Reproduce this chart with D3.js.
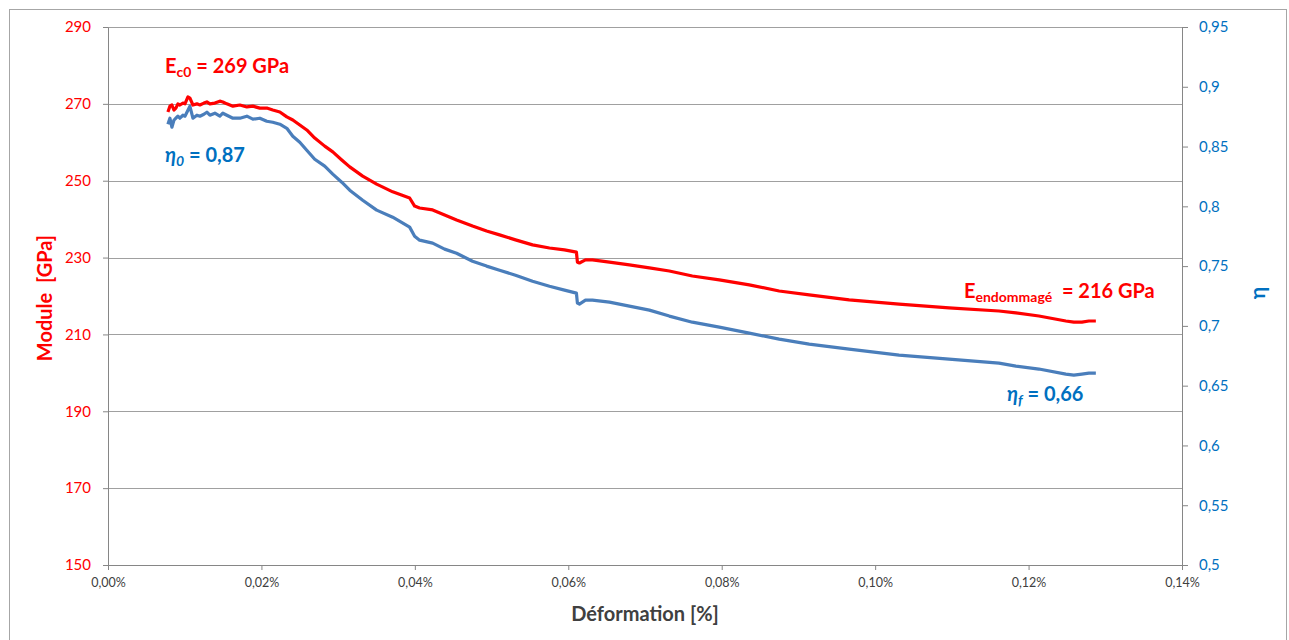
<!DOCTYPE html>
<html><head><meta charset="utf-8">
<script src="https://cdn.jsdelivr.net/npm/d3@7"></script>
<style>
html,body{margin:0;padding:0;background:#fff;}
svg{display:block;font-family:Lato,"Open Sans",sans-serif;}
</style></head>
<body><svg id="c" width="1289" height="640"></svg>
<script>
// Data
const strain = [0.00781,0.00807,0.00833,0.00859,0.00885,0.00911,0.00937,0.00977,0.01003,0.01042,
0.01068,0.01107,0.01159,0.01198,0.0125,0.01289,0.01328,0.01393,0.01458,0.01497,
0.01549,0.01628,0.01719,0.0181,0.01888,0.01979,0.0207,0.02148,0.0224,0.02331,
0.02409,0.025,0.02591,0.02695,0.02825,0.0293,0.03047,0.03151,0.0332,0.03502,
0.03711,0.03932,0.03997,0.04062,0.04232,0.04388,0.04544,0.04752,0.04935,0.05104,
0.05312,0.05534,0.05755,0.0595,0.06106,0.06119,0.06145,0.06224,0.06315,0.06536,
0.06796,0.07057,0.07317,0.07617,0.07968,0.08359,0.08749,0.0914,0.09661,0.10312,
0.10963,0.11614,0.11835,0.12135,0.12486,0.1259,0.12695,0.12786,0.12877];
const moduleGPa = [267.9,269.4,269.7,268.4,268.9,270.0,269.7,270.2,270.0,271.8,
271.5,269.7,270.0,269.7,270.2,270.5,270.0,270.2,270.7,270.5,
270.0,269.4,269.7,269.2,269.4,268.9,268.9,268.4,267.9,266.6,
265.8,264.5,263.2,261.1,259.0,257.5,255.4,253.6,251.2,249.1,
247.1,245.5,243.4,242.9,242.4,241.1,239.8,238.2,236.9,235.9,
234.6,233.3,232.5,232.0,231.4,228.8,228.6,229.4,229.4,228.8,
228.1,227.3,226.5,225.2,224.2,222.9,221.3,220.3,219.0,217.9,
216.9,216.1,215.6,214.8,213.5,213.2,213.2,213.5,213.5];
const eta = [0.8687,0.8737,0.8662,0.8720,0.8737,0.8754,0.8737,0.8762,0.8754,0.8804,
0.8837,0.8737,0.8762,0.8754,0.8770,0.8787,0.8762,0.8779,0.8754,0.8779,
0.8762,0.8737,0.8737,0.8754,0.8729,0.8737,0.8712,0.8703,0.8687,0.8653,
0.8586,0.8536,0.8469,0.8394,0.8336,0.8269,0.8202,0.8135,0.8051,0.7968,
0.7909,0.7826,0.7750,0.7717,0.7692,0.7642,0.7608,0.7541,0.7500,0.7466,
0.7424,0.7374,0.7332,0.7299,0.7274,0.7190,0.7182,0.7215,0.7215,0.7199,
0.7165,0.7132,0.7082,0.7031,0.6990,0.6940,0.6889,0.6848,0.6806,0.6756,
0.6722,0.6689,0.6664,0.6639,0.6597,0.6588,0.6597,0.6605,0.6605];
const xTicks = [0,0.02,0.04,0.06,0.08,0.10,0.12,0.14];
const yLeftTicks = [150,170,190,210,230,250,270,290];
const yRightTicks = [0.5,0.55,0.6,0.65,0.7,0.75,0.8,0.85,0.9,0.95];

const svg = d3.select("#c");
const L=108, R=1182, T=27, B=565;
const x = d3.scaleLinear().domain([0,0.14]).range([L,R]);
const yL = d3.scaleLinear().domain([150,290]).range([B,T]);
const yR = d3.scaleLinear().domain([0.5,0.95]).range([B,T]);

// outer frame
svg.append("rect").attr("x",9.5).attr("y",9.5).attr("width",1277).attr("height",700)
  .attr("fill","none").attr("stroke","#a6a6a6").attr("stroke-width",1);

// gridlines
svg.append("g").selectAll("line").data(yLeftTicks.slice(1)).join("line")
  .attr("x1",L).attr("x2",R).attr("y1",d=>Math.round(yL(d))+0.5).attr("y2",d=>Math.round(yL(d))+0.5)
  .attr("stroke","#a0a0a0").attr("stroke-width",1);

const comma = s => s.replace(".",",");
// axes
const gx = svg.append("g").attr("transform",`translate(0,${B})`)
  .call(d3.axisBottom(x).tickValues(xTicks).tickSize(5).tickSizeOuter(0).tickFormat(d=>comma(d3.format(".2f")(d))+"%"));
gx.selectAll("text").attr("fill","#404040").style("font-size","12.5px").attr("dy","1.15em");
const gl = svg.append("g").attr("transform",`translate(${L},0)`)
  .call(d3.axisLeft(yL).tickValues(yLeftTicks).tickSize(5).tickSizeOuter(0).tickFormat(d3.format("d")));
gl.selectAll("text").attr("fill","#ff0000").style("font-size","15px").attr("x",-17);
const gr = svg.append("g").attr("transform",`translate(${R},0)`)
  .call(d3.axisRight(yR).tickValues(yRightTicks).tickSize(6).tickSizeOuter(0).tickFormat(d=>comma(String(+d.toFixed(2)))));
gr.selectAll("text").attr("fill","#0070c0").style("font-size","15px").attr("x",17);
[gx,gl,gr].forEach(g=>{g.select(".domain").attr("stroke","#868686");g.selectAll(".tick line").attr("stroke","#868686");g.attr("font-family",null);});

// lines
const lineBlue = d3.line().x((d,i)=>x(strain[i])).y(d=>yR(d));
const lineRed = d3.line().x((d,i)=>x(strain[i])).y(d=>yL(d));
svg.append("path").datum(eta).attr("d",lineBlue).attr("fill","none")
  .attr("stroke","#4a7ebb").attr("stroke-width",3.2).attr("stroke-linejoin","round");
svg.append("path").datum(moduleGPa).attr("d",lineRed).attr("fill","none")
  .attr("stroke","#ff0000").attr("stroke-width",3.2).attr("stroke-linejoin","round");

// axis titles
svg.append("text").attr("transform","translate(52,298) rotate(-90)").attr("text-anchor","middle")
  .attr("fill","#ff0000").style("font-size","20px").style("font-weight","bold").style("white-space","pre").text("Module  [GPa]");
svg.append("text").attr("x",645).attr("y",621).attr("text-anchor","middle")
  .attr("fill","#404040").style("font-size","20px").style("font-weight","bold").text("Déformation [%]");
svg.append("text").attr("transform","translate(1265,293) rotate(-90)").attr("text-anchor","middle")
  .attr("fill","#0070c0").style("font-size","21px").style("font-weight","bold").text("η");

// annotations
function ann(xp,yp,color,parts){
  const t = svg.append("text").attr("x",xp).attr("y",yp).attr("fill",color)
    .style("font-size","20px").style("font-weight","bold").style("white-space","pre");
  parts.forEach(p=>{
    const s = t.append("tspan").text(p.t);
    if(p.sub){ s.attr("dy",4).style("font-size","14px"); }
    if(p.back){ s.attr("dy",-4); }
    if(p.it){ s.style("font-style","italic"); }
  });
}
ann(165,73,"#ff0000",[{t:"E"},{t:"c0",sub:true},{t:" = 269 GPa",back:true}]);
ann(165,162,"#0070c0",[{t:"η",it:true},{t:"0",sub:true,it:true},{t:" = 0,87",back:true}]);
ann(964,298,"#ff0000",[{t:"E"},{t:"endommagé",sub:true},{t:"  = 216 GPa",back:true}]);
ann(1007,401,"#0070c0",[{t:"η",it:true},{t:"f",sub:true,it:true},{t:" = 0,66",back:true}]);
</script></body></html>
